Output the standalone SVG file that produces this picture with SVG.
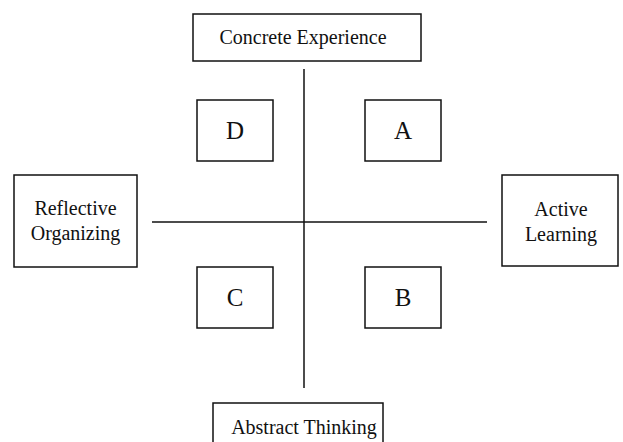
<svg xmlns="http://www.w3.org/2000/svg" width="623" height="442" viewBox="0 0 623 442">
<style>
.box{fill:#fff;stroke:#111;stroke-width:1.5}
.t{font-family:"Liberation Serif","Times New Roman",serif;font-size:20px;fill:#111;text-anchor:middle}
.l{font-family:"Liberation Serif","Times New Roman",serif;font-size:25px;fill:#111;text-anchor:middle}
.ln{stroke:#111;stroke-width:1.5;fill:none}
</style>
<rect width="623" height="442" fill="#fff"/>
<g id="connectors">
<line class="ln" x1="304" y1="69" x2="304" y2="388"/>
<line class="ln" x1="152" y1="222" x2="487" y2="222"/>
</g>
<g id="concrete"><rect class="box" x="193" y="14" width="228" height="47"/><text class="t" x="303" y="44">Concrete Experience</text></g>
<g id="abstract"><rect class="box" x="213" y="403" width="170" height="45"/><text class="t" x="304" y="434">Abstract Thinking</text></g>
<g id="reflective"><rect class="box" x="14" y="175" width="123" height="92"/><text class="t" x="75.5" y="215">Reflective</text><text class="t" x="75.5" y="240">Organizing</text></g>
<g id="active"><rect class="box" x="502" y="175" width="116" height="91"/><text class="t" x="561" y="216">Active</text><text class="t" x="561" y="241">Learning</text></g>
<g id="D"><rect class="box" x="197" y="100" width="76" height="61"/><text class="l" x="235" y="139">D</text></g>
<g id="A"><rect class="box" x="365" y="100" width="76" height="61"/><text class="l" x="403" y="139">A</text></g>
<g id="C"><rect class="box" x="197" y="267" width="76" height="61"/><text class="l" x="235" y="306">C</text></g>
<g id="B"><rect class="box" x="365" y="267" width="76" height="61"/><text class="l" x="403" y="306">B</text></g>
</svg>
